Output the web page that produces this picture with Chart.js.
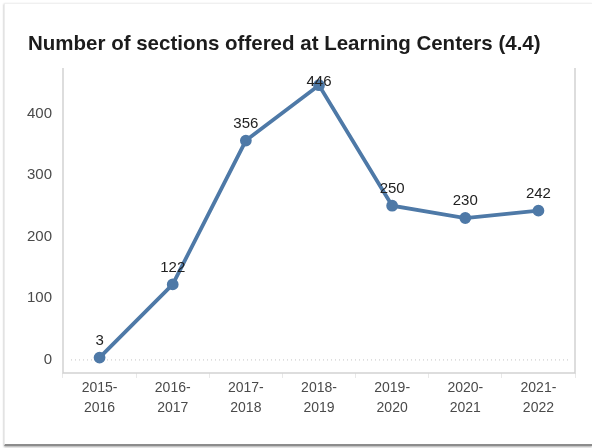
<!DOCTYPE html>
<html>
<head>
<meta charset="utf-8">
<script src="https://cdn.jsdelivr.net/npm/chart.js@4/dist/chart.umd.min.js"></script>
<style>
    body { margin: 0; background: #fff; }
    .wrap { position: relative; width: 592px; height: 448px; overflow: hidden; }
    .card {
        position: absolute; left: 4px; top: 3px; right: 0; bottom: 2px;
        border-top: 1px solid #f0f0f0;
        border-left: 1px solid #ececec;
        border-bottom: 2px solid #8c8c8c;
        box-shadow: 0 1px 2px rgba(0, 0, 0, 0.35);
    }
    #sectionsChart { position: absolute; left: 0; top: 0; }
</style>
</head>
<body>
<div class="wrap">
    <div class="card"></div>
    <canvas id="sectionsChart" width="592" height="448"></canvas>
</div>
<script>
// Sections offered per academic year
const years = [['2015-', '2016'], ['2016-', '2017'], ['2017-', '2018'], ['2018-', '2019'],
               ['2019-', '2020'], ['2020-', '2021'], ['2021-', '2022']];
const sections = [3, 122, 356, 446, 250, 230, 242];
const yTicks = [0, 100, 200, 300, 400];

const chartTitle = 'Number of sections offered at Learning Centers (4.4)';
const lineColor = '#4e79a7';
const fontFamily = '"Liberation Sans", Arial, sans-serif';

// Title sits left of the plot, so it is drawn here rather than by the title plugin
const titlePlugin = {
    id: 'leftTitle',
    afterDraw(chart) {
        const { ctx } = chart;
        ctx.save();
        ctx.font = 'bold 20.5px ' + fontFamily;
        ctx.fillStyle = '#1c1c1c';
        ctx.textAlign = 'left';
        ctx.textBaseline = 'middle';
        ctx.fillText(chartTitle, 28, 44);
        ctx.restore();
    }
};

// Frame on left, right and bottom of the plot, plus a dotted zero line
const framePlugin = {
    id: 'frame',
    beforeDatasetsDraw(chart) {
        const { ctx, chartArea } = chart;
        const y0 = chart.scales.y.getPixelForValue(0);
        ctx.save();
        ctx.strokeStyle = '#d2d2d2';
        ctx.lineWidth = 1.5;
        ctx.beginPath();
        ctx.moveTo(chartArea.left, chartArea.top);
        ctx.lineTo(chartArea.left, chartArea.bottom);
        ctx.lineTo(chartArea.right, chartArea.bottom);
        ctx.lineTo(chartArea.right, chartArea.top);
        ctx.stroke();

        ctx.strokeStyle = '#c4c4c4';
        ctx.lineWidth = 1;
        ctx.setLineDash([1, 3]);
        ctx.beginPath();
        ctx.moveTo(chartArea.left + 8, y0 + 0.5);
        ctx.lineTo(chartArea.right - 4, y0 + 0.5);
        ctx.stroke();
        ctx.restore();
    }
};

// Value above each point
const valueLabels = {
    id: 'valueLabels',
    afterDatasetsDraw(chart) {
        const { ctx, chartArea } = chart;
        const meta = chart.getDatasetMeta(0);
        ctx.save();
        ctx.font = '15px ' + fontFamily;
        ctx.fillStyle = '#222';
        ctx.textAlign = 'center';
        ctx.textBaseline = 'middle';
        meta.data.forEach((pt, i) => {
            const y = Math.max(pt.y - 17, chartArea.top + 14);
            ctx.fillText(String(sections[i]), pt.x, y);
        });
        ctx.restore();
    }
};

new Chart(document.getElementById('sectionsChart'), {
    type: 'line',
    data: {
        labels: years,
        datasets: [{
            data: sections,
            borderColor: lineColor,
            backgroundColor: lineColor,
            borderWidth: 3.8,
            pointRadius: 4,
            pointHoverRadius: 4,
            tension: 0
        }]
    },
    options: {
        responsive: false,
        animation: false,
        devicePixelRatio: 1,
        layout: {
            padding: { left: 0, right: 17, top: 68, bottom: 30 }
        },
        plugins: {
            legend: { display: false },
            tooltip: { enabled: false },
            title: { display: false }
        },
        scales: {
            x: {
                offset: true,
                grid: {
                    display: true,
                    drawOnChartArea: false,
                    drawTicks: true,
                    tickLength: 5,
                    color: '#e8e8e8',
                    offset: true
                },
                border: { display: false },
                ticks: {
                    color: '#4a4a4a',
                    padding: 0,
                    maxRotation: 0,
                    font: { family: fontFamily, size: 14, lineHeight: 1.43 }
                }
            },
            y: {
                min: -22,
                max: 474,
                afterBuildTicks(scale) {
                    scale.ticks = yTicks.map(v => ({ value: v }));
                },
                afterFit(scale) {
                    scale.width = 63;
                },
                grid: { display: false, drawTicks: false },
                border: { display: false },
                ticks: {
                    color: '#4a4a4a',
                    padding: 11,
                    font: { family: fontFamily, size: 15 }
                }
            }
        }
    },
    plugins: [framePlugin, valueLabels, titlePlugin]
});
</script>
</body>
</html>
